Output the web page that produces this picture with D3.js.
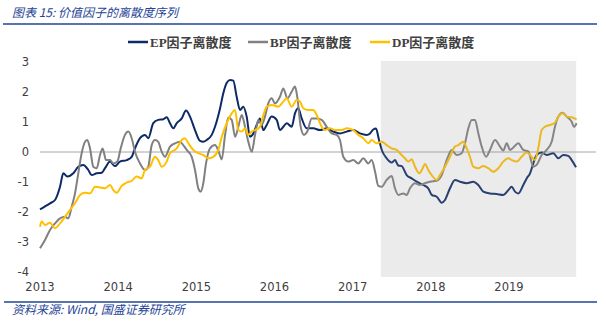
<!DOCTYPE html>
<html>
<head>
<meta charset="utf-8">
<script src="https://cdn.jsdelivr.net/npm/d3@7"></script>
<style>
  html, body { margin: 0; padding: 0; background: #fff; }
</style>
</head>
<body>
<script>
// Decimal-year time stamps and readings for each factor's dispersion
const epTime = [2013.000, 2013.128, 2013.192, 2013.256, 2013.298, 2013.349, 2013.426, 2013.490, 2013.554, 2013.618,
  2013.661, 2013.725, 2013.789, 2013.832, 2013.896, 2013.959, 2014.023, 2014.109, 2014.173, 2014.215,
  2014.279, 2014.343, 2014.385, 2014.449, 2014.513, 2014.577, 2014.621, 2014.663, 2014.705, 2014.749,
  2014.813, 2014.868, 2014.919, 2014.983, 2015.047, 2015.089, 2015.133, 2015.197, 2015.239, 2015.303,
  2015.345, 2015.388, 2015.431, 2015.473, 2015.516, 2015.559, 2015.601, 2015.644, 2015.686, 2015.729,
  2015.772, 2015.814, 2015.857, 2015.900, 2015.964, 2016.028, 2016.070, 2016.113, 2016.156, 2016.220,
  2016.262, 2016.304, 2016.348, 2016.412, 2016.496, 2016.582, 2016.668, 2016.752, 2016.838, 2016.924,
  2017.008, 2017.094, 2017.179, 2017.222, 2017.264, 2017.298, 2017.337, 2017.375, 2017.435, 2017.499,
  2017.541, 2017.584, 2017.627, 2017.691, 2017.755, 2017.819, 2017.903, 2017.967, 2018.011, 2018.075,
  2018.139, 2018.181, 2018.245, 2018.309, 2018.373, 2018.459, 2018.543, 2018.607, 2018.671, 2018.757,
  2018.842, 2018.927, 2018.991, 2019.034, 2019.077, 2019.119, 2019.183, 2019.226, 2019.269, 2019.311,
  2019.354, 2019.418, 2019.482, 2019.567, 2019.631, 2019.695, 2019.758, 2019.802, 2019.857];
const epValues = [-1.91, -1.71, -1.60, -1.16, -0.71, -0.82, -0.71, -0.49, -0.43, -0.60,
  -0.77, -0.71, -0.69, -0.54, -0.32, -0.47, -0.32, -0.27, -0.16, 0.12,
  0.46, 0.57, 0.46, 0.96, 1.07, 1.09, 1.16, 0.96, 0.79, 0.96,
  1.12, 1.38, 1.18, 0.73, 0.37, 0.34, 0.40, 0.57, 0.84, 1.45,
  1.96, 2.30, 2.40, 2.38, 1.84, 1.40, 1.51, 1.18, 0.51, 0.62,
  0.90, 1.12, 0.73, 0.90, 1.18, 1.07, 0.73, 0.84, 0.96, 0.84,
  1.29, 1.46, 1.12, 0.79, 0.79, 0.73, 0.79, 0.68, 0.62, 0.68,
  0.73, 0.62, 0.57, 0.62, 0.75, 0.78, 0.40, 0.05, -0.21, -0.35,
  -0.27, -0.45, -0.47, -0.77, -0.88, -0.99, -1.10, -1.21, -1.43, -1.49,
  -1.69, -1.60, -1.21, -0.93, -0.99, -1.04, -0.99, -1.10, -1.32, -1.38,
  -1.40, -1.43, -1.27, -1.16, -1.32, -1.38, -1.10, -0.88, -0.71, -0.38,
  -0.10, -0.02, -0.10, -0.04, -0.21, -0.10, -0.13, -0.27, -0.51];

const bpTime = [2013.000, 2013.064, 2013.128, 2013.192, 2013.256, 2013.320, 2013.362, 2013.406, 2013.448, 2013.490,
  2013.533, 2013.576, 2013.605, 2013.640, 2013.682, 2013.725, 2013.768, 2013.802, 2013.844, 2013.896,
  2013.938, 2013.989, 2014.032, 2014.087, 2014.130, 2014.173, 2014.215, 2014.279, 2014.343, 2014.385,
  2014.429, 2014.471, 2014.513, 2014.557, 2014.599, 2014.663, 2014.727, 2014.791, 2014.833, 2014.877,
  2014.941, 2014.983, 2015.025, 2015.056, 2015.089, 2015.124, 2015.175, 2015.239, 2015.281, 2015.325,
  2015.367, 2015.409, 2015.453, 2015.495, 2015.537, 2015.581, 2015.623, 2015.665, 2015.709, 2015.751,
  2015.793, 2015.836, 2015.878, 2015.921, 2015.964, 2016.006, 2016.070, 2016.113, 2016.164, 2016.220,
  2016.262, 2016.291, 2016.335, 2016.377, 2016.419, 2016.476, 2016.540, 2016.604, 2016.668, 2016.732,
  2016.796, 2016.838, 2016.880, 2016.944, 2017.008, 2017.072, 2017.136, 2017.200, 2017.243, 2017.286,
  2017.328, 2017.371, 2017.435, 2017.499, 2017.541, 2017.584, 2017.648, 2017.691, 2017.733, 2017.797,
  2017.861, 2017.925, 2017.989, 2018.075, 2018.139, 2018.203, 2018.267, 2018.331, 2018.395, 2018.437,
  2018.480, 2018.523, 2018.565, 2018.608, 2018.651, 2018.706, 2018.757, 2018.821, 2018.885, 2018.927,
  2018.971, 2019.013, 2019.055, 2019.119, 2019.183, 2019.247, 2019.311, 2019.354, 2019.418, 2019.482,
  2019.546, 2019.588, 2019.631, 2019.687, 2019.738, 2019.802, 2019.831, 2019.865];
const bpValues = [-3.21, -2.93, -2.60, -2.38, -2.21, -2.16, -2.21, -1.82, -1.38, -0.71,
  -0.04, 0.34, 0.40, 0.12, -0.49, -0.54, -0.10, 0.12, -0.27, -0.27,
  -0.38, -0.32, 0.12, 0.57, 0.68, 0.46, 0.01, -0.38, -0.60, -0.49,
  0.23, 0.40, 0.34, 0.01, -0.16, 0.18, 0.29, 0.34, 0.23, 0.07,
  -0.16, -0.60, -1.21, -1.32, -1.04, -0.38, 0.12, 0.23, 0.05, -0.25,
  0.55, 1.15, 1.07, 0.51, 0.84, 1.23, 0.84, 0.34, 0.01, 0.57,
  1.07, 0.90, 1.18, 1.62, 1.79, 1.62, 1.84, 2.12, 1.79, 2.01,
  2.18, 1.84, 0.84, 0.57, 0.68, 1.12, 1.12, 1.07, 0.84, 0.62,
  0.57, 0.40, -0.16, -0.32, -0.27, -0.38, -0.21, -0.38, -0.27, -0.65,
  -1.13, -1.16, -0.93, -0.80, -1.21, -1.43, -1.38, -1.43, -1.21, -1.04,
  -1.10, -1.04, -0.99, -0.96, -0.77, -0.27, 0.07, -0.10, -0.04, 0.29,
  0.79, 1.07, 1.07, 0.62, 0.18, -0.16, 0.07, 0.40, 0.18, 0.05,
  0.29, 0.07, 0.15, 0.29, 0.07, 0.02, -0.49, -0.43, -0.10, 0.07,
  0.34, 0.84, 1.18, 1.31, 1.18, 1.01, 0.84, 0.96];

const dpTime = [2013.000, 2013.022, 2013.064, 2013.128, 2013.192, 2013.256, 2013.320, 2013.384, 2013.448, 2013.512,
  2013.576, 2013.640, 2013.704, 2013.768, 2013.832, 2013.896, 2013.938, 2013.981, 2014.045, 2014.109,
  2014.173, 2014.237, 2014.301, 2014.343, 2014.407, 2014.471, 2014.513, 2014.557, 2014.621, 2014.663,
  2014.749, 2014.813, 2014.855, 2014.898, 2014.961, 2015.025, 2015.089, 2015.153, 2015.217, 2015.281,
  2015.325, 2015.388, 2015.453, 2015.495, 2015.537, 2015.581, 2015.623, 2015.665, 2015.709, 2015.751,
  2015.814, 2015.857, 2015.900, 2015.964, 2016.049, 2016.113, 2016.156, 2016.220, 2016.284, 2016.326,
  2016.368, 2016.432, 2016.496, 2016.540, 2016.604, 2016.646, 2016.710, 2016.774, 2016.860, 2016.924,
  2017.008, 2017.072, 2017.136, 2017.200, 2017.243, 2017.307, 2017.371, 2017.435, 2017.499, 2017.563,
  2017.605, 2017.669, 2017.712, 2017.755, 2017.797, 2017.852, 2017.896, 2017.925, 2017.967, 2018.011,
  2018.075, 2018.117, 2018.181, 2018.245, 2018.309, 2018.352, 2018.416, 2018.459, 2018.501, 2018.543,
  2018.607, 2018.671, 2018.735, 2018.799, 2018.863, 2018.927, 2018.991, 2019.034, 2019.098, 2019.162,
  2019.226, 2019.269, 2019.332, 2019.374, 2019.418, 2019.460, 2019.524, 2019.588, 2019.631, 2019.687,
  2019.738, 2019.802, 2019.865];
const dpValues = [-2.49, -2.32, -2.43, -2.36, -2.54, -2.38, -2.16, -1.93, -1.71, -1.43,
  -1.36, -1.38, -1.16, -1.18, -1.21, -1.10, -1.27, -1.36, -1.13, -1.02,
  -0.96, -0.82, -0.88, -0.60, -0.49, -0.16, -0.27, -0.49, -0.32, -0.04,
  0.12, 0.40, 0.46, 0.29, 0.07, -0.04, -0.10, -0.21, -0.16, 0.07,
  0.50, 0.95, 1.29, 1.40, 0.73, 0.68, 0.79, 0.57, 0.68, 0.73,
  0.84, 1.23, 1.51, 1.57, 1.51, 1.68, 1.79, 1.51, 1.73, 1.68,
  1.46, 1.40, 1.40, 1.23, 0.84, 0.73, 0.79, 0.73, 0.73, 0.79,
  0.73, 0.57, 0.46, 0.29, 0.40, 0.29, 0.34, 0.23, 0.12, 0.07,
  -0.04, -0.21, -0.32, -0.24, -0.49, -0.71, -0.54, -0.40, -0.60, -0.77,
  -0.93, -0.77, -0.49, -0.16, 0.18, 0.23, 0.34, 0.12, -0.16, -0.49,
  -0.54, -0.47, -0.54, -0.66, -0.54, -0.32, -0.21, -0.27, -0.32, -0.16,
  -0.02, -0.10, -0.27, 0.12, 0.73, 0.84, 0.90, 0.98, 1.18, 1.29,
  1.18, 1.16, 1.09];

const seriesNames = ["EP因子离散度", "BP因子离散度", "DP因子离散度"];
const seriesColors = ["#0c2a66", "#808080", "#ffc000"];
const yearTicks = [2013, 2014, 2015, 2016, 2017, 2018, 2019];
const valueTicks = [3, 2, 1, 0, -1, -2, -3, -4];
const shadedPeriod = [2017.36, 2019.86];

const width = 606;
const height = 325;
const blue = "#1f4596";

const svg = d3
  .select("body")
  .append("svg")
  .attr("width", width)
  .attr("height", height);

svg.append("rect").attr("width", width).attr("height", height).attr("fill", "#fff");

const xScale = d3.scaleLinear().domain([2013, 2019]).range([40, 509]);
const yScale = d3.scaleLinear().domain([3, -4]).range([62, 272]);

// title and rule
svg
  .append("text")
  .attr("x", 12)
  .attr("y", 17)
  .attr("fill", blue)
  .attr("font-family", "'Noto Sans CJK SC', sans-serif")
  .attr("font-size", 12)
  .attr("font-style", "italic")
  .text("图表 15:  价值因子的离散度序列");

svg
  .append("line")
  .attr("x1", 3)
  .attr("x2", 597)
  .attr("y1", 24)
  .attr("y2", 24)
  .attr("stroke", blue)
  .attr("stroke-width", 1.5);

// legend
const legendX = [128, 248, 370];
const legend = svg
  .selectAll(".legend")
  .data(seriesNames)
  .enter()
  .append("g")
  .attr("class", "legend")
  .attr("transform", (d, i) => `translate(${legendX[i]}, 42)`);

legend
  .append("line")
  .attr("x1", 0)
  .attr("x2", 20)
  .attr("stroke", (d, i) => seriesColors[i])
  .attr("stroke-width", 2.5);

legend
  .append("text")
  .attr("x", 22)
  .attr("dy", "0.35em")
  .attr("fill", "#404040")
  .attr("font-family", "'Liberation Serif', 'Noto Sans CJK SC', serif")
  .attr("font-size", 13)
  .attr("font-weight", "bold")
  .text((d) => d);

// y labels
svg
  .append("g")
  .selectAll("text")
  .data(valueTicks)
  .enter()
  .append("text")
  .attr("x", 29)
  .attr("y", (d) => yScale(d))
  .attr("dy", "0.35em")
  .attr("text-anchor", "end")
  .attr("fill", "#404040")
  .attr("font-family", "'DejaVu Sans', sans-serif")
  .attr("font-size", 11.5)
  .text((d) => d);

// x labels
svg
  .append("g")
  .selectAll("text")
  .data(yearTicks)
  .enter()
  .append("text")
  .attr("x", (d) => xScale(d))
  .attr("y", 287)
  .attr("dy", "0.35em")
  .attr("text-anchor", "middle")
  .attr("fill", "#404040")
  .attr("font-family", "'DejaVu Sans', sans-serif")
  .attr("font-size", 11.5)
  .text((d) => d);

// zero line
svg
  .append("line")
  .attr("x1", 40)
  .attr("x2", 596)
  .attr("y1", yScale(0))
  .attr("y2", yScale(0))
  .attr("stroke", "#a6a6a6")
  .attr("stroke-width", 1);

const line = d3
  .line()
  .x((d) => xScale(d[0]))
  .y((d) => yScale(d[1]))
  .curve(d3.curveMonotoneX);

const series = [
  d3.zip(epTime, epValues),
  d3.zip(bpTime, bpValues),
  d3.zip(dpTime, dpValues),
];

series.forEach((data, i) => {
  svg
    .append("path")
    .datum(data)
    .attr("fill", "none")
    .attr("stroke", seriesColors[i])
    .attr("stroke-width", 2)
    .attr("stroke-linejoin", "round")
    .attr("d", line);
});

// translucent band over the recent period
svg
  .append("rect")
  .attr("x", xScale(shadedPeriod[0]))
  .attr("y", 61)
  .attr("width", xScale(shadedPeriod[1]) - xScale(shadedPeriod[0]))
  .attr("height", 216)
  .attr("fill", "#999")
  .attr("opacity", 0.2);

// footer
svg
  .append("line")
  .attr("x1", 4)
  .attr("x2", 597)
  .attr("y1", 302)
  .attr("y2", 302)
  .attr("stroke", blue)
  .attr("stroke-width", 1.5);

svg
  .append("text")
  .attr("x", 12)
  .attr("y", 314)
  .attr("fill", blue)
  .attr("font-family", "'Noto Sans CJK SC', sans-serif")
  .attr("font-size", 12)
  .attr("font-style", "italic")
  .text("资料来源:  Wind, 国盛证券研究所");
</script>
</body>
</html>
